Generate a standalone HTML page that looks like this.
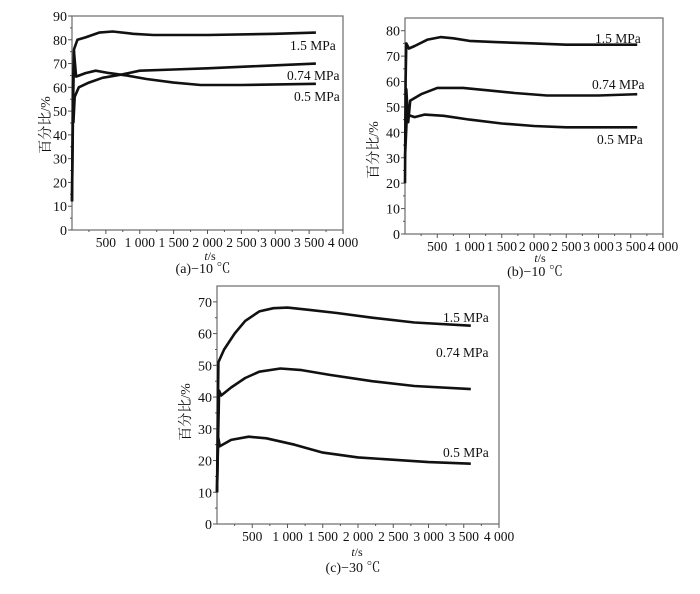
<!DOCTYPE html>
<html><head><meta charset="utf-8">
<style>
html,body{margin:0;padding:0;background:#fff;}
svg{display:block;font-family:"Liberation Serif","Noto Serif CJK SC",serif;}
</style></head>
<body>
<svg id="fig" width="700" height="594" viewBox="0 0 700 594" xmlns="http://www.w3.org/2000/svg"></svg>
<script>
// x ticks shared
const xTicks = [500, 1000, 1500, 2000, 2500, 3000, 3500, 4000];
const xTickLabels = ["500", "1 000", "1 500", "2 000", "2 500", "3 000", "3 500", "4 000"];
// panel a (-10 C)
const aTime15 = [0, 15, 30, 80, 200, 400, 600, 900, 1200, 2000, 3000, 3600];
const aVal15 = [12, 60, 76, 80, 81, 83, 83.5, 82.5, 82, 82, 82.5, 83];
const aTime074 = [20, 40, 100, 250, 450, 750, 1000, 1500, 2000, 2800, 3600];
const aVal074 = [45, 56, 60, 62, 64, 65.5, 67, 67.5, 68, 69, 70];
const aTime05 = [0, 15, 30, 60, 200, 350, 550, 800, 1100, 1500, 1900, 2500, 3600];
const aVal05 = [12, 50, 75, 64.5, 66, 67, 66, 65, 63.5, 62, 61, 61, 61.5];
const aYTicks = [0, 10, 20, 30, 40, 50, 60, 70, 80, 90];
// panel b (-10 C)
const bTime15 = [0, 10, 20, 60, 150, 350, 550, 750, 1000, 1400, 2000, 2500, 3600];
const bVal15 = [20, 60, 75, 73, 74, 76.5, 77.5, 77, 76, 75.5, 75, 74.5, 74.5];
const bTime074 = [10, 20, 50, 80, 250, 500, 900, 1300, 1700, 2200, 3000, 3600];
const bVal074 = [45, 57, 44, 52.5, 55, 57.5, 57.5, 56.5, 55.5, 54.5, 54.5, 55];
const bTime05 = [0, 30, 150, 300, 600, 1000, 1500, 2000, 2500, 3600];
const bVal05 = [30, 47, 46, 47, 46.5, 45, 43.5, 42.5, 42, 42];
const bYTicks = [0, 10, 20, 30, 40, 50, 60, 70, 80];
// panel c (-30 C)
const cTime15 = [0, 20, 100, 250, 400, 600, 800, 1000, 1300, 1700, 2200, 2800, 3600];
const cVal15 = [10, 51, 55, 60, 64, 67, 68, 68.2, 67.5, 66.5, 65, 63.5, 62.5];
const cTime074 = [0, 30, 60, 200, 400, 600, 900, 1200, 1600, 2200, 2800, 3600];
const cVal074 = [10, 42, 40.5, 43, 46, 48, 49, 48.5, 47, 45, 43.5, 42.5];
const cTime05 = [0, 15, 40, 200, 450, 700, 1100, 1500, 2000, 3000, 3600];
const cVal05 = [10, 27.5, 24.5, 26.5, 27.5, 27, 25, 22.5, 21, 19.5, 19];
const cYTicks = [0, 10, 20, 30, 40, 50, 60, 70];

const NS = "http://www.w3.org/2000/svg";
const svg = document.getElementById("fig");
function mk(tag, attrs, parent){const e=document.createElementNS(NS,tag);for(const k in attrs)e.setAttribute(k,attrs[k]);(parent||svg).appendChild(e);return e;}

function panel(id, box, yMax, yTicks, series, yTitle, tLabel, caption){
  const g = mk("g",{});
  
  
  const xs = t => box.l + (t/4000)*(box.r-box.l);
  const ys = v => box.b - (v/yMax)*(box.b-box.t);
  const frame = mk("rect",{x:box.l,y:box.t,width:box.r-box.l,height:box.b-box.t,fill:"none",stroke:"#777","stroke-width":1.3},g);
  
  
  // y ticks
  yTicks.forEach(v=>{
    const y=ys(v);
    mk("line",{x1:box.l-4,x2:box.l,y1:y,y2:y,stroke:"#555","stroke-width":1},g);
    const tx=mk("text",{x:box.l-5,y:y+5,"text-anchor":"end","font-size":14,fill:"#111"},g);
    tx.textContent=v;
    
    
    if(v+5<yMax){const y2=ys(v+5);mk("line",{x1:box.l-2,x2:box.l,y1:y2,y2:y2,stroke:"#555","stroke-width":1},g);}
  });
  // x ticks
  xTicks.forEach((t,i)=>{
    const x=xs(t);
    mk("line",{x1:x,x2:x,y1:box.b,y2:box.b+4,stroke:"#555","stroke-width":1},g);
    mk("line",{x1:xs(t-250),x2:xs(t-250),y1:box.b,y2:box.b+2,stroke:"#555","stroke-width":1},g);
    const tx=mk("text",{x:x,y:box.b+17,"text-anchor":"middle","font-size":13.5,fill:"#111"},g);
    tx.textContent=xTickLabels[i];
    
    
  });
  series.forEach(s=>{
    const pts=s.t.map((t,i)=>xs(t).toFixed(1)+","+ys(s.v[i]).toFixed(1)).join(" ");
    const pl=mk("polyline",{points:pts,fill:"none",stroke:"#111","stroke-width":2.6,"stroke-linejoin":"round"},g);
    
    
    const lb=mk("text",{x:s.lx,y:s.ly,"font-size":13.5,fill:"#111"},g);
    lb.textContent=s.label;
    
    
  });
  const yt=mk("text",{x:0,y:0,"font-size":14,"text-anchor":"middle",transform:`translate(${yTitle.x},${yTitle.y}) rotate(-90)`,fill:"#111"},g);
  yt.textContent="百分比/%";
  
  
  const xt=mk("text",{x:tLabel.x,y:tLabel.y,"font-size":12,"text-anchor":"middle",fill:"#111"},g);
  xt.innerHTML='<tspan font-style="italic">t</tspan>/s';
  
  
  const cp=mk("text",{x:caption.x,y:caption.y,"font-size":14,"text-anchor":"middle",fill:"#111"},g);
  cp.textContent=caption.text;
  
  
}

panel("a",{l:72,r:343,t:16,b:230},90,aYTicks,[
  {name:"1-5mpa",t:aTime15,v:aVal15,label:"1.5 MPa",lx:290,ly:50},
  {name:"0-74mpa",t:aTime074,v:aVal074,label:"0.74 MPa",lx:287,ly:80},
  {name:"0-5mpa",t:aTime05,v:aVal05,label:"0.5 MPa",lx:294,ly:101}
],{x:50,y:125},{x:210,y:260},{x:203,y:273,text:"(a)−10 ℃"});

panel("b",{l:405,r:663,t:18,b:234},85,bYTicks,[
  {name:"1-5mpa",t:bTime15,v:bVal15,label:"1.5 MPa",lx:595,ly:43},
  {name:"0-74mpa",t:bTime074,v:bVal074,label:"0.74 MPa",lx:592,ly:89},
  {name:"0-5mpa",t:bTime05,v:bVal05,label:"0.5 MPa",lx:597,ly:144}
],{x:378,y:150},{x:540,y:262},{x:535,y:276,text:"(b)−10 ℃"});

panel("c",{l:217,r:499,t:286,b:524},75,cYTicks,[
  {name:"1-5mpa",t:cTime15,v:cVal15,label:"1.5 MPa",lx:443,ly:322},
  {name:"0-74mpa",t:cTime074,v:cVal074,label:"0.74 MPa",lx:436,ly:357},
  {name:"0-5mpa",t:cTime05,v:cVal05,label:"0.5 MPa",lx:443,ly:457}
],{x:190,y:412},{x:357,y:556},{x:353,y:572,text:"(c)−30 ℃"});
</script>
</body></html>
